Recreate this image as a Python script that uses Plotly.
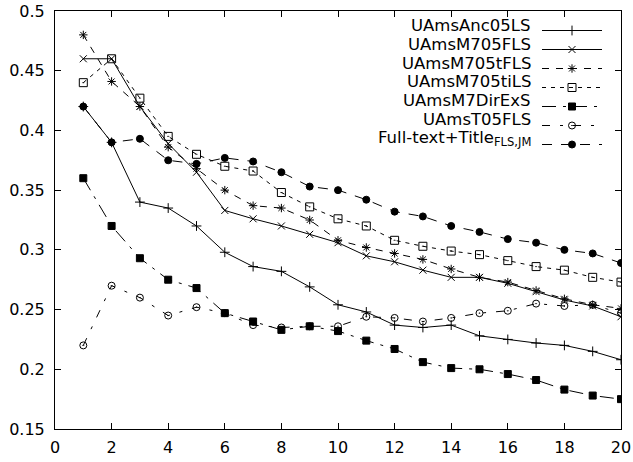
import plotly.graph_objects as go

ranks = list(range(1, 21))

anc05ls = [0.420, 0.390, 0.340, 0.335, 0.320, 0.298, 0.286, 0.282, 0.269, 0.254,
           0.248, 0.237, 0.235, 0.237, 0.228, 0.225, 0.222, 0.220, 0.215, 0.208]
m705fls = [0.460, 0.460, 0.420, 0.389, 0.365, 0.333, 0.326, 0.320, 0.313, 0.306,
           0.295, 0.290, 0.283, 0.277, 0.277, 0.272, 0.265, 0.258, 0.253, 0.244]
m705tfls = [0.480, 0.441, 0.420, 0.386, 0.368, 0.350, 0.337, 0.335, 0.325, 0.308,
            0.302, 0.297, 0.292, 0.284, 0.277, 0.273, 0.266, 0.259, 0.254, 0.251]
m705tils = [0.440, 0.460, 0.427, 0.395, 0.380, 0.370, 0.366, 0.348, 0.336, 0.326,
            0.320, 0.308, 0.303, 0.299, 0.296, 0.291, 0.286, 0.283, 0.277, 0.273]
m7direxs = [0.360, 0.320, 0.293, 0.275, 0.268, 0.247, 0.240, 0.233, 0.236, 0.232,
            0.224, 0.217, 0.206, 0.201, 0.200, 0.196, 0.191, 0.183, 0.178, 0.175]
t05fls = [0.220, 0.270, 0.260, 0.245, 0.252, 0.247, 0.237, 0.235, 0.236, 0.236,
          0.244, 0.243, 0.240, 0.243, 0.247, 0.249, 0.255, 0.253, 0.254, 0.247]
fulltext = [0.420, 0.390, 0.393, 0.375, 0.372, 0.377, 0.374, 0.365, 0.353, 0.350,
            0.342, 0.332, 0.328, 0.320, 0.315, 0.309, 0.306, 0.300, 0.297, 0.289]

names = ["UAmsAnc05LS", "UAmsM705FLS", "UAmsM705tFLS", "UAmsM705tiLS",
         "UAmsM7DirExS", "UAmsT05FLS", "Full-text+Title<sub>FLS,JM</sub>"]
series = [anc05ls, m705fls, m705tfls, m705tils, m7direxs, t05fls, fulltext]
symbols = ["cross-thin-open", "x-thin-open", "asterisk-open", "square-open-dot",
           "square", "circle-open-dot", "circle"]
sizes = [7, 7, 7, 8, 7, 7, 7]
dashes = ["solid", "solid", "7px,7px", "4px,5px", "14px,7px,3px,7px",
          "8px,10px,3px,10px", "10px,9px"]

x_ticks = list(range(0, 21, 2))
y_ticks = [0.15, 0.2, 0.25, 0.3, 0.35, 0.4, 0.45, 0.5]

FONT = "DejaVu Sans, Liberation Sans, Arial, sans-serif"

fig = go.Figure()
for name, vals, sym, sz, dash in zip(names, series, symbols, sizes, dashes):
    fig.add_trace(go.Scatter(
        x=ranks, y=vals, name=name, mode="lines+markers",
        line=dict(color="black", width=1, dash=dash),
        marker=dict(symbol=sym, size=sz, color="black",
                    line=dict(color="black", width=1)),
    ))

W, H = 633, 462
ml, mr, mt, mb = 55, 12, 11, 33
pw, ph = W - ml - mr, H - mt - mb

# legend labels (right-aligned text, samples to the right)
rows = [25.5 + 18.8 * i for i in range(len(names))]
for name, py in zip(names, rows):
    fig.add_annotation(
        x=(533 - ml) / pw, y=(H - mb - py) / ph, xref="paper", yref="paper",
        text=name, showarrow=False, xanchor="right", yanchor="middle",
        font=dict(family=FONT, size=16.5, color="black"),
    )

axis_common = dict(
    showline=True, linecolor="black", linewidth=1, mirror="ticks",
    ticks="inside", ticklen=6, tickcolor="black", showgrid=False, zeroline=False,
    tickfont=dict(family=FONT, size=16, color="black"),
)

fig.update_layout(
    width=W, height=H,
    margin=dict(l=ml, r=mr, t=mt, b=mb, autoexpand=False),
    paper_bgcolor="white", plot_bgcolor="white",
    xaxis=dict(range=[0, 20], tickvals=x_ticks, ticklabelstandoff=4, **axis_common),
    yaxis=dict(range=[0.15, 0.5], tickvals=y_ticks, ticklabelstandoff=6, **axis_common),
    showlegend=True,
    legend=dict(
        x=(537 - ml) / pw, y=(H - mb - 16) / ph, xanchor="left", yanchor="top",
        bgcolor="rgba(0,0,0,0)", borderwidth=0, itemwidth=60,
        tracegroupgap=0, itemclick=False,
        font=dict(family=FONT, size=1, color="rgba(0,0,0,0)"),
    ),
)

fig.write_html("out.html")
